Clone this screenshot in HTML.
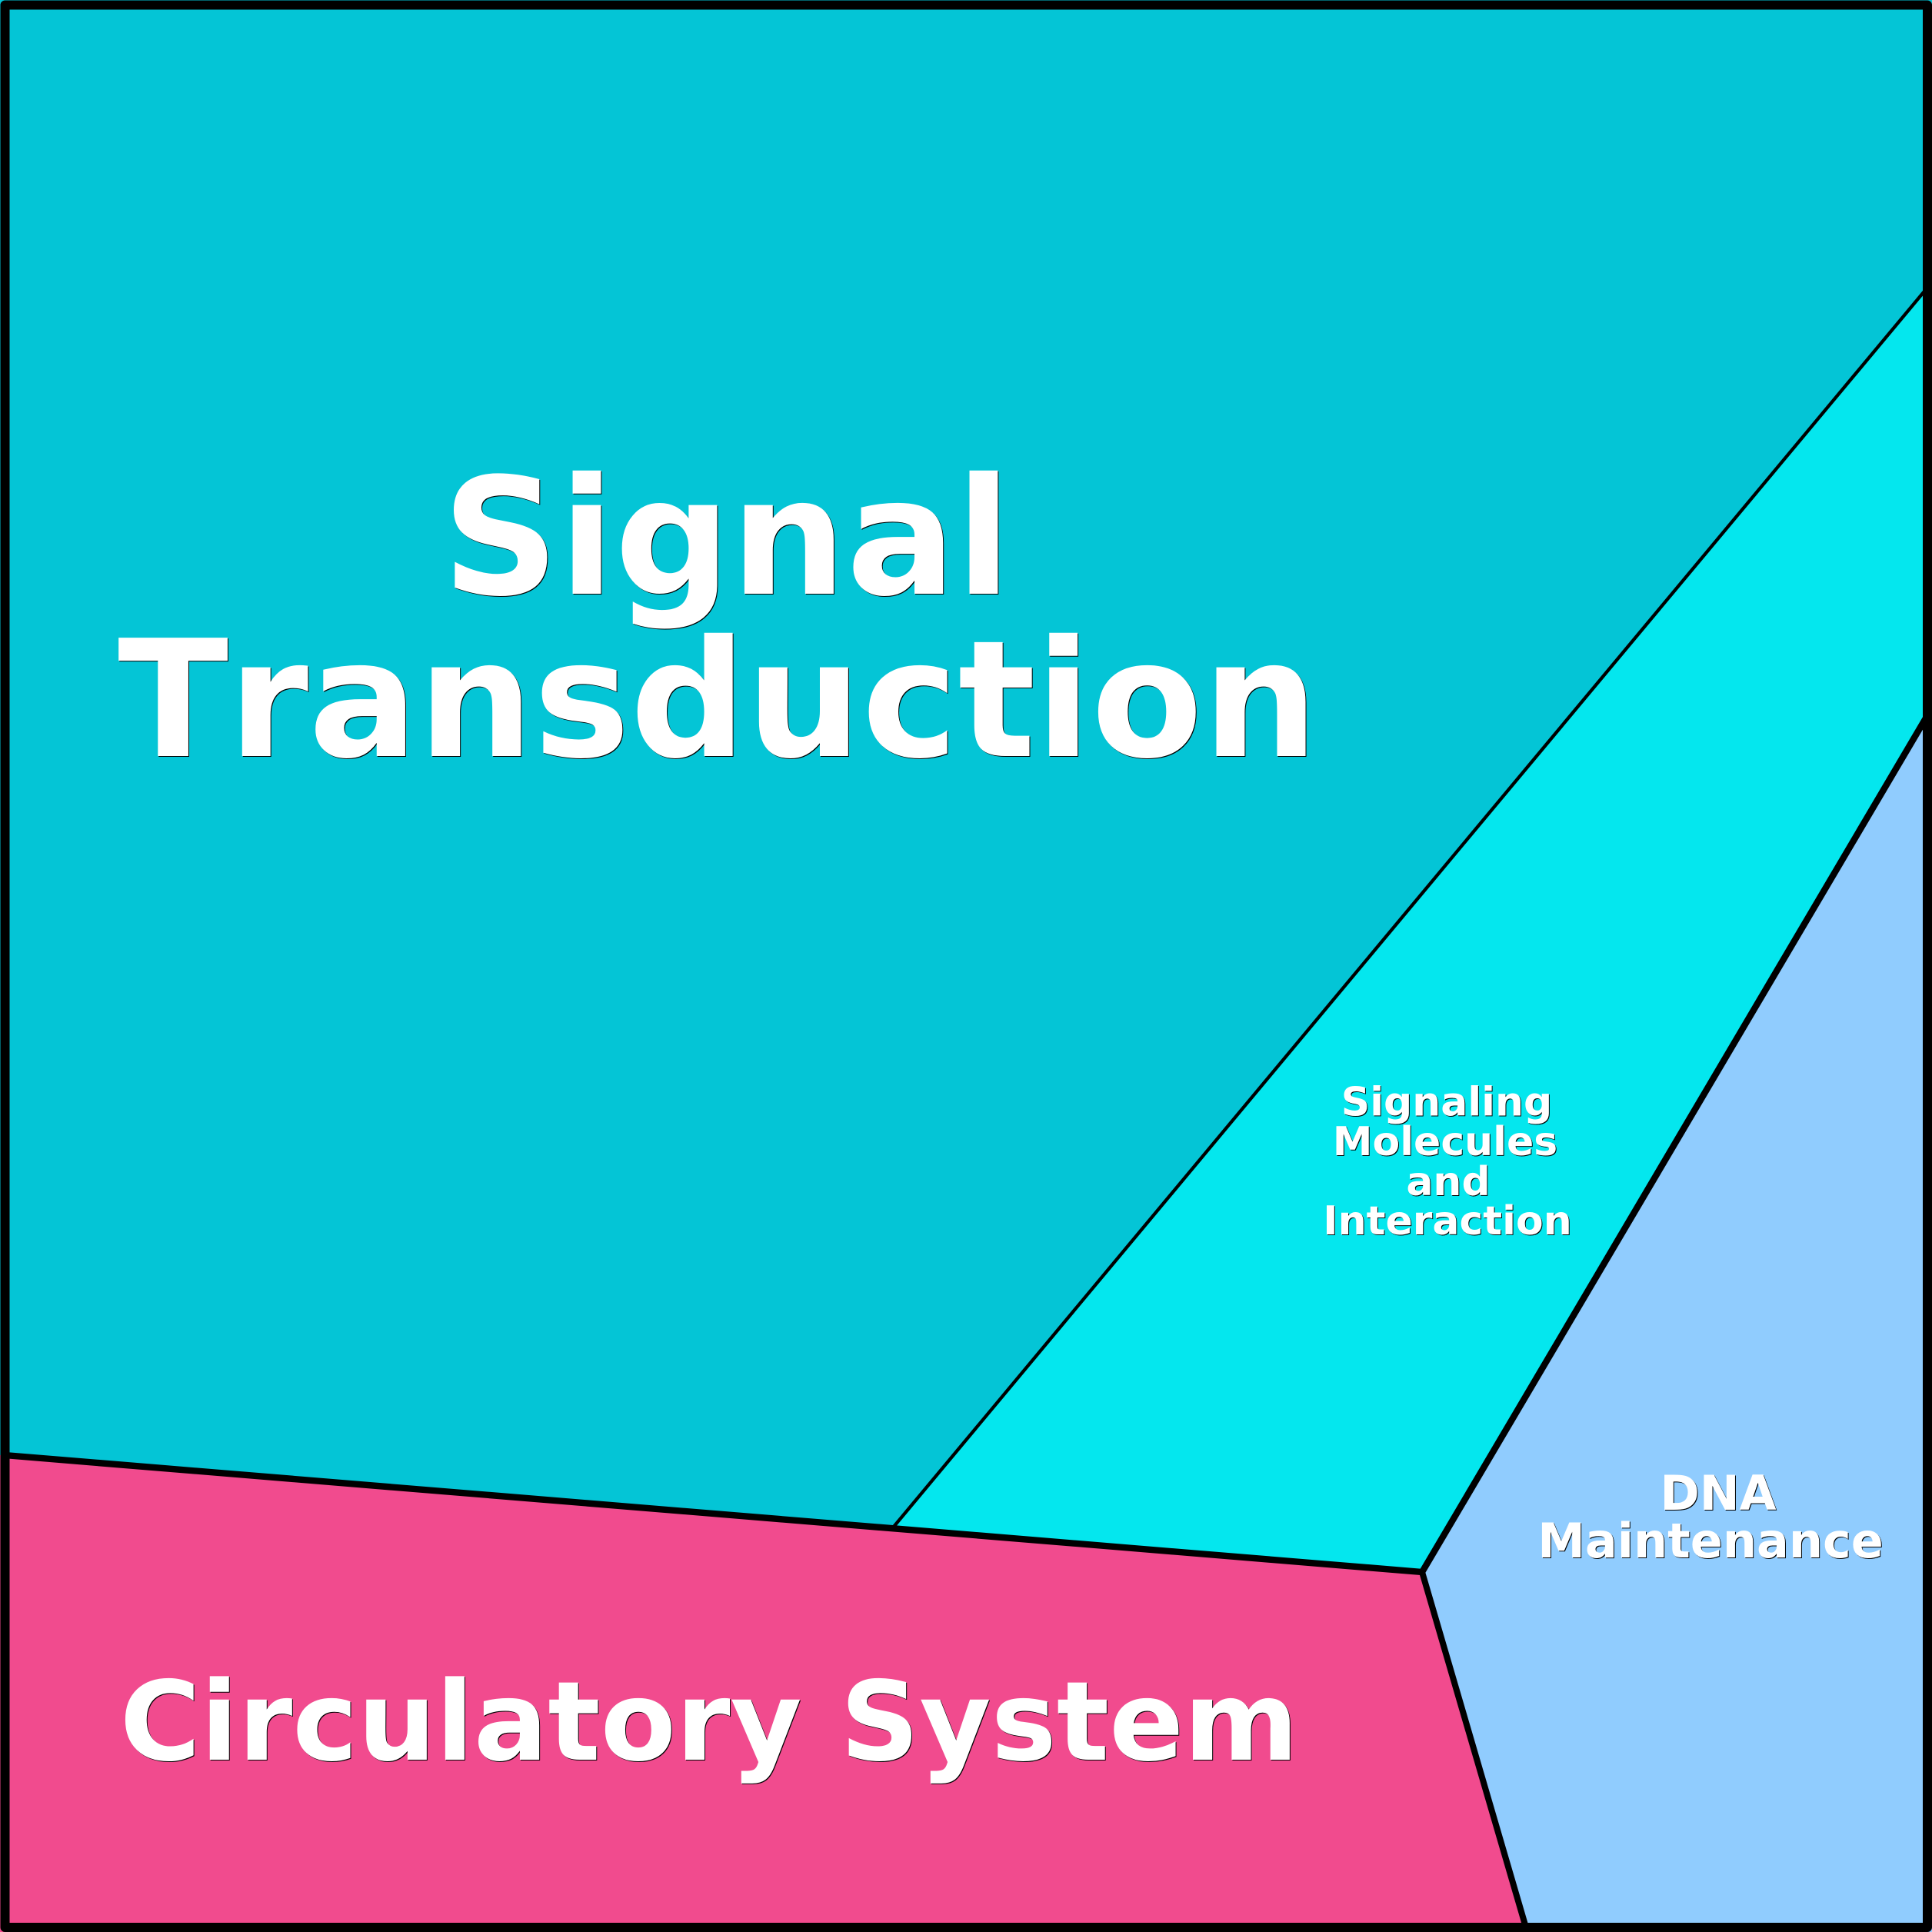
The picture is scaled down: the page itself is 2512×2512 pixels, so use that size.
<!DOCTYPE html>
<html>
<head>
<meta charset="utf-8">
<style>
html,body{margin:0;padding:0;background:#fff;width:2512px;height:2512px;overflow:hidden}
svg{display:block}
text{font-family:"DejaVu Sans",sans-serif;font-weight:700;text-anchor:middle;font-kerning:none}
.k{fill:#000}
.w{fill:#fff}
</style>
</head>
<body>
<svg width="2512" height="2512" viewBox="0 0 2512 2512" xmlns="http://www.w3.org/2000/svg">
<polygon points="0,0 2512,0 2512,367 1162,1985 0,1892" fill="#04c5d6"/>
<polygon points="2512,367 2512,920 1849,2044 1162,1985" fill="#04e7ee"/>
<polygon points="2512,920 2512,2512 1984,2512 1849,2044" fill="#90ccfe"/>
<polygon points="0,1892 1849,2044 1984,2512 0,2512" fill="#f14b8e"/>
<line x1="1162" y1="1985" x2="2506" y2="374" stroke="#000" stroke-width="4.3"/>
<polyline points="6,1892 1849,2044 2506,930.3" fill="none" stroke="#000" stroke-width="8.4"/>
<line x1="1849" y1="2044" x2="1984" y2="2506" stroke="#000" stroke-width="8"/>
<rect x="6.5" y="6.5" width="2499.5" height="2499.5" fill="none" stroke="#000" stroke-width="12" stroke-linejoin="round"/>

<g font-size="211">
<text class="k" x="946" y="773">Signal</text>
<text class="w" x="945" y="772">Signal</text>
<text class="k" x="934.6" y="984">Transduction</text>
<text class="w" x="933.6" y="983">Transduction</text>
</g>
<g font-size="143">
<text class="k" x="923" y="2289">Circulatory System</text>
<text class="w" x="922" y="2288">Circulatory System</text>
</g>
<g font-size="52">
<text class="k" x="1882" y="1451.5">Signaling</text>
<text class="w" x="1881" y="1450.5">Signaling</text>
<text class="k" x="1880" y="1503">Molecules</text>
<text class="w" x="1879" y="1502">Molecules</text>
<text class="k" x="1884" y="1555">and</text>
<text class="w" x="1883" y="1554">and</text>
<text class="k" x="1883" y="1606">Interaction</text>
<text class="w" x="1882" y="1605">Interaction</text>
</g>
<g font-size="62">
<text class="k" x="2235" y="1964">DNA</text>
<text class="w" x="2234" y="1963">DNA</text>
<text class="k" x="2225" y="2026">Maintenance</text>
<text class="w" x="2224" y="2025">Maintenance</text>
</g>
</svg>
</body>
</html>
